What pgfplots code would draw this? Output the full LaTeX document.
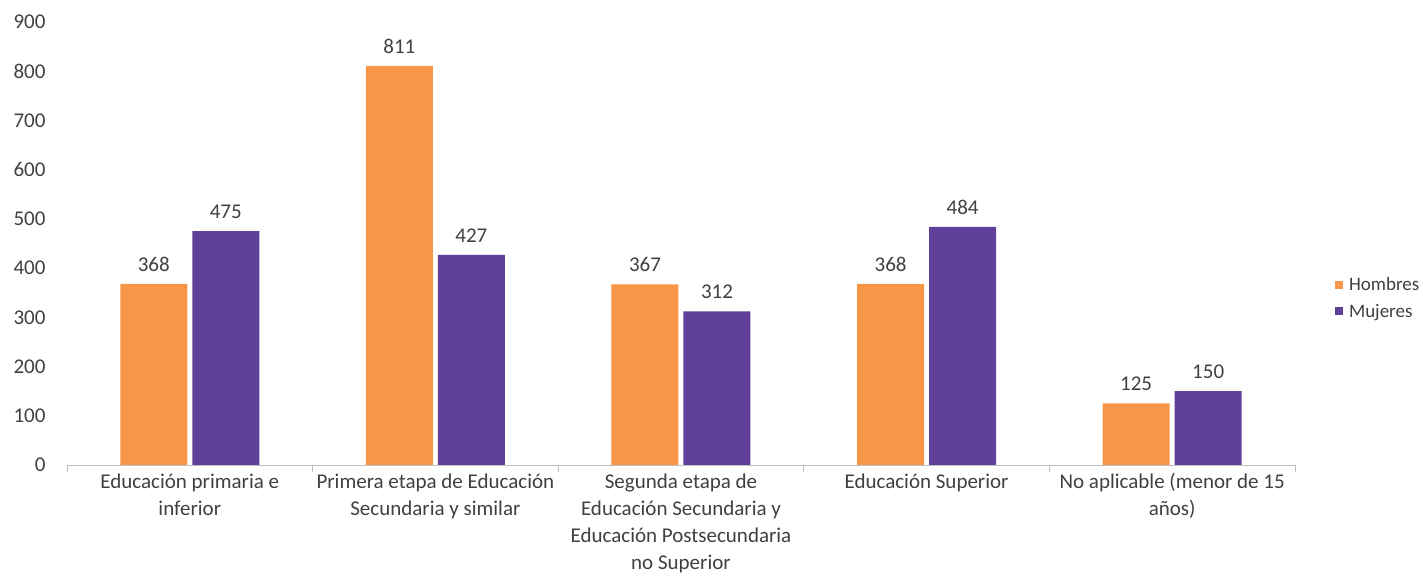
\documentclass[border=0pt]{standalone}
\usepackage{pgfplots}
\pgfplotsset{compat=1.18}
\usepackage{fontspec}
\setmainfont{Carlito}

\definecolor{hombres}{RGB}{247,150,70}
\definecolor{mujeres}{RGB}{96,64,152}
\definecolor{txt}{RGB}{64,64,64}
\definecolor{axisgray}{RGB}{191,191,191}

\begin{document}
\begin{tikzpicture}
\useasboundingbox (-67pt,-115pt) rectangle (1356pt,465pt);
\begin{axis}[
    scale only axis,
    width=1228pt, height=443pt,
    ybar=5pt, bar width=67pt,
    xmin=-0.5, xmax=4.5,
    ymin=0, ymax=900,
    ytick={0,100,...,900},
    xtick={0,1,2,3,4},
    xticklabels={
        {Educación primaria e\\inferior},
        {Primera etapa de Educación\\Secundaria y similar},
        {Segunda etapa de\\Educación Secundaria y\\Educación Postsecundaria\\no Superior},
        {Educación Superior},
        {No aplicable (menor de 15\\años)}},
    x tick label style={align=center, yshift=-5pt},
    extra x ticks={-0.5,0.5,1.5,2.5,3.5,4.5},
    extra x tick labels={},
    extra x tick style={major tick length=7pt, tick align=outside, tick style={axisgray, line width=0.8pt}},
    major tick length=0pt,
    axis x line*=bottom,
    axis y line*=left,
    y axis line style={draw=none},
    x axis line style={axisgray, line width=0.8pt},
    yticklabel style={xshift=-18pt},
    /pgf/number format/assume math mode=true,
    ticklabel style={font=\fontsize{21}{27}\selectfont, text=txt},
    nodes near coords,
    nodes near coords style={font=\fontsize{21}{27}\selectfont, text=txt, yshift=9pt},
    legend style={draw=none, at={(1.03,0.377)}, anchor=west,
        font=\fontsize{19}{24}\selectfont, text=txt, row sep=8pt,
        legend cell align=left},
    legend image code/.code={\fill[#1] (0pt,-4pt) rectangle (8pt,4pt); \path (12pt,0pt);},
]
\addplot[fill=hombres, draw=none] coordinates {(0,368) (1,811) (2,367) (3,368) (4,125)};
\addlegendentry{Hombres}
\addplot[fill=mujeres, draw=none] coordinates {(0,475) (1,427) (2,312) (3,484) (4,150)};
\addlegendentry{Mujeres}
\end{axis}
\end{tikzpicture}
\end{document}
